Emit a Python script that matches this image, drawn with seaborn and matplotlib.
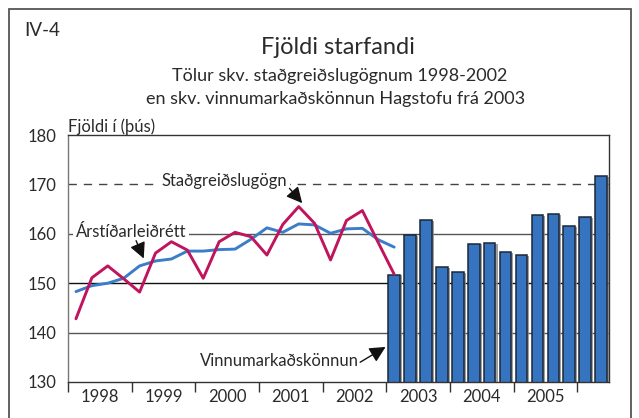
import numpy as np
import pandas as pd
import seaborn as sns
import matplotlib.pyplot as plt
from matplotlib.patches import Rectangle
from matplotlib import patheffects as pe

sns.set_theme(style="white")
plt.rcParams["font.family"] = ["Lato", "DejaVu Sans"]

# Quarterly employment, thousands. Line series run 1998Q1 - 2003Q1.
line_years = [1998] * 4 + [1999] * 4 + [2000] * 4 + [2001] * 4 + [2002] * 4 + [2003]
line_quarters = [1, 2, 3, 4] * 5 + [1]
withholding = [142.8, 151.1, 153.5, 150.9, 148.2, 156.1, 158.4, 156.7,
               151.0, 158.4, 160.3, 159.4, 155.7, 161.9, 165.5, 162.1,
               154.7, 162.7, 164.7, 158.2, 151.8]
seasonal_adj = [148.3, 149.5, 150.0, 151.0, 153.5, 154.5, 154.9, 156.5,
                156.5, 156.8, 156.9, 158.9, 161.2, 160.3, 162.0, 161.8,
                160.1, 161.0, 161.1, 158.8, 157.3]

# Labour force survey, 2003Q1 - 2006Q2
bar_years = [2003] * 4 + [2004] * 4 + [2005] * 4 + [2006] * 2
bar_quarters = [1, 2, 3, 4] * 3 + [1, 2]
survey = [151.7, 159.7, 162.8, 153.2, 152.2, 158.0, 158.1, 156.3,
          155.7, 163.8, 164.0, 161.5, 163.4, 171.6]

year_labels = ["1998", "1999", "2000", "2001", "2002", "2003", "2004", "2005"]
y_ticks = [130, 140, 150, 160, 170, 180]

RED = "#C0145C"
BLUE_LINE = "#3A7DC9"
BAR = "#3674BF"
TXT = "#2a2a2a"

lines_df = pd.DataFrame({
    "t": np.array(line_years) + (np.array(line_quarters) - 0.5) / 4,
    "Staðgreiðslugögn": withholding,
    "Árstíðarleiðrétt": seasonal_adj,
})
bars_df = pd.DataFrame({
    "t": np.array(bar_years) + (np.array(bar_quarters) - 0.5) / 4,
    "v": survey,
})

fig = plt.figure(figsize=(6.39, 4.18), dpi=100)
ax = fig.add_axes([68 / 639, 1 - 382 / 418, (609 - 68) / 639, (382 - 135) / 418])

# reference lines
for yv, col in [(140, "#555555"), (150, "#111111"), (160, "#555555")]:
    ax.axhline(yv, color=col, lw=1.0, zorder=0.5)
ax.axhline(170, color="#444444", lw=1.0, dashes=(6, 5), zorder=0.5)

sns.barplot(data=bars_df, x="t", y="v", native_scale=True, width=0.73,
            color=BAR, saturation=1, edgecolor="#1B2738", linewidth=1.1,
            ax=ax, zorder=2)
for p in ax.patches:
    p.set_path_effects([pe.SimplePatchShadow(offset=(1.5, -0.5), shadow_rgbFace="#888888", alpha=0.8),
                        pe.Normal()])

sns.lineplot(data=lines_df, x="t", y="Árstíðarleiðrétt", color=BLUE_LINE,
             lw=2.1, ax=ax, zorder=3)
sns.lineplot(data=lines_df, x="t", y="Staðgreiðslugögn", color=RED,
             lw=2.1, ax=ax, zorder=4)

ax.set_xlim(1998, 2006.5)
ax.set_ylim(130, 180)
ax.set_xlabel("")
ax.set_ylabel("")
ax.set_yticks(y_ticks)
ax.set_yticklabels([str(v) for v in y_ticks], fontsize=12, color=TXT)
ax.tick_params(axis="y", length=0, pad=8)

ax.set_xticks(np.arange(1998, 2007))
ax.set_xticklabels([])
ax.tick_params(axis="x", which="major", direction="out", length=7, width=1.0,
               color="#333333", bottom=True)
ax.set_xticks(np.arange(1998, 2006) + 0.5, minor=True)
ax.set_xticklabels(year_labels, minor=True, fontsize=12, color=TXT)
ax.tick_params(axis="x", which="minor", length=0, pad=5)

for s in ax.spines.values():
    s.set_color("#333333")
    s.set_linewidth(1.0)
ax.spines["left"].set_color("#777777")

# series labels with arrows
arrow = dict(arrowstyle="-|>,head_length=0.8,head_width=0.4",
             color="#111111", lw=1.0, shrinkA=0, shrinkB=0)
ax.text(2000.45, 170.6, "Staðgreiðslugögn", ha="center", va="center", fontsize=12,
        color=TXT, bbox=dict(fc="white", ec="none", pad=2), zorder=1)
ax.annotate("", xy=(2001.68, 166.2), xytext=(2001.48, 169.2), arrowprops=arrow, zorder=5)
ax.text(1998.99, 160.4, "Árstíðarleiðrétt", ha="center", va="center", fontsize=12,
        color=TXT, bbox=dict(fc="white", ec="none", pad=2), zorder=1)
ax.annotate("", xy=(1999.19, 155.0), xytext=(1999.07, 158.6), arrowprops=arrow, zorder=5)
ax.text(2001.32, 134.3, "Vinnumarkaðskönnun", ha="center", va="center", fontsize=12,
        color=TXT, zorder=1)
ax.annotate("", xy=(2002.99, 137.1), xytext=(2002.59, 134.0), arrowprops=arrow, zorder=5)

# headings
fig.text(24 / 639, 1 - 31 / 418, "IV-4", ha="left", va="center", fontsize=13.5, color=TXT)
fig.text(338 / 639, 1 - 48 / 418, "Fjöldi starfandi", ha="center", va="center",
         fontsize=17, color=TXT)
fig.text(340 / 639, 1 - 76 / 418, "Tölur skv. staðgreiðslugögnum 1998-2002",
         ha="center", va="center", fontsize=13, color=TXT)
fig.text(336 / 639, 1 - 99 / 418, "en skv. vinnumarkaðskönnun Hagstofu frá 2003",
         ha="center", va="center", fontsize=13, color=TXT)
fig.text(68 / 639, 1 - 127 / 418, "Fjöldi í (þús)", ha="left", va="center",
         fontsize=12, color=TXT)

# outer frame
fig.patches.append(Rectangle((9 / 639, -0.05), (631 - 9) / 639, 1.05 - 9 / 418,
                             transform=fig.transFigure, fill=False,
                             ec="#555555", lw=1.3))

fig.savefig("out.png", dpi=100)
